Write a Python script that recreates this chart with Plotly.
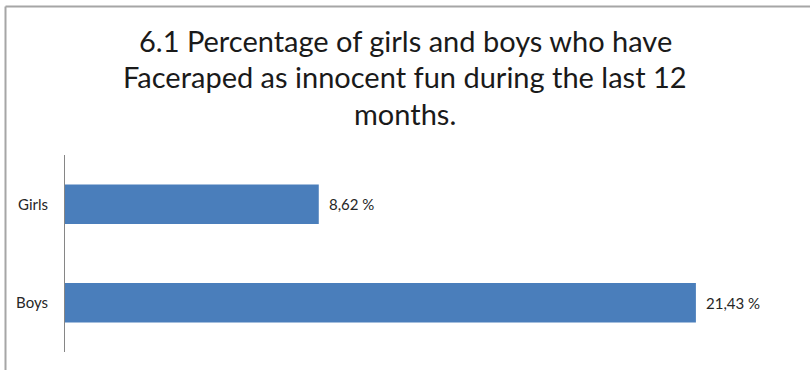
import plotly.graph_objects as go

# Share of respondents per group (percent)
groups = ["Girls", "Boys"]
percentages = [8.62, 21.43]
value_labels = ["8,62 %", "21,43 %"]

title_lines = [
    "6.1 Percentage of girls and boys who have",
    "Faceraped as innocent fun during the last 12",
    "months.",
]

W, H = 810, 370
M_L, M_R, M_T, M_B = 65, 9, 155, 18
plot_w = W - M_L - M_R
plot_h = H - M_T - M_B

FONT = "Lato, 'Open Sans', sans-serif"
BAR_COLOR = "#4a7ebb"


def px_x(px):
    return (px - M_L) / plot_w


def px_y(py):
    return (H - M_B - py) / plot_h


fig = go.Figure(
    go.Bar(
        x=percentages,
        y=groups,
        orientation="h",
        marker=dict(color=BAR_COLOR, line=dict(width=0)),
        hoverinfo="skip",
    )
)

# Value labels placed just past the end of each bar
for g, v, lab in zip(groups, percentages, value_labels):
    fig.add_annotation(
        x=v, y=g, xref="x", yref="y",
        text=lab, showarrow=False,
        xanchor="left", xshift=8,
        font=dict(family=FONT, size=15, color="#262626"),
    )

# Three-line heading, centred on the whole chart
title_centres = [40.5, 77, 113.5]
for line, cy in zip(title_lines, title_centres):
    fig.add_annotation(
        x=px_x(W / 2), y=px_y(cy), xref="paper", yref="paper",
        text=line, showarrow=False,
        xanchor="center", yanchor="middle",
        font=dict(family=FONT, size=29, color="#1a1a1a"),
    )

# Outer chart frame (top and left edges visible)
border = dict(color="#a6a6a6", width=2)
fig.add_shape(type="line", xref="paper", yref="paper",
              x0=px_x(5.5), x1=px_x(W + 5), y0=px_y(6.5), y1=px_y(6.5), line=border)
fig.add_shape(type="line", xref="paper", yref="paper",
              x0=px_x(5.5), x1=px_x(5.5), y0=px_y(6.5), y1=px_y(H + 5), line=border)

fig.update_layout(
    width=W,
    height=H,
    margin=dict(l=M_L, r=M_R, t=M_T, b=M_B, pad=0),
    paper_bgcolor="white",
    plot_bgcolor="white",
    showlegend=False,
    bargap=0.6,
    xaxis=dict(
        range=[0, 25],
        visible=False,
        showgrid=False,
        zeroline=False,
        fixedrange=True,
    ),
    yaxis=dict(
        autorange="reversed",
        showline=True,
        linecolor="#868686",
        linewidth=1,
        showgrid=False,
        zeroline=False,
        ticks="",
        ticklabelstandoff=13,
        tickfont=dict(family=FONT, size=15, color="#262626"),
        fixedrange=True,
    ),
)

fig.write_html("out.html")
